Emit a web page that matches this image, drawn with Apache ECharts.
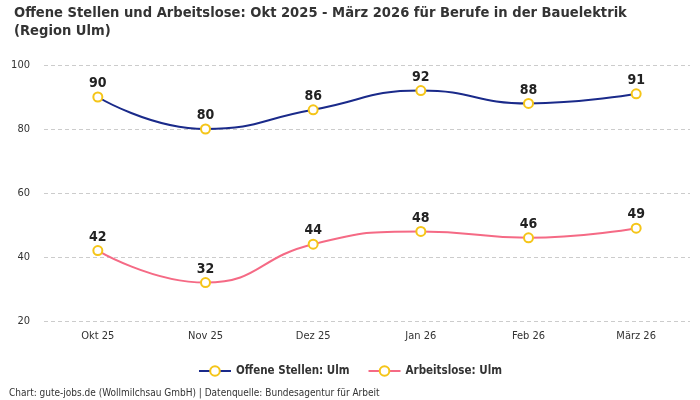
<!DOCTYPE html>
<html lang="de">
<head>
    <meta charset="UTF-8">
    <title>Offene Stellen und Arbeitslose</title>
    <script src="https://cdn.jsdelivr.net/npm/echarts@6/dist/echarts.min.js"></script>
</head>
<style>
    html, body { margin: 0; padding: 0; background: #fff; }
    #chart { width: 700px; height: 400px; }
</style>
<body>
<div id="chart"></div>
<script type="text/javascript">
    // Monate und Werte
    const months = ['Okt 25', 'Nov 25', 'Dez 25', 'Jan 26', 'Feb 26', 'März 26'];
    const offeneStellen = [90, 80, 86, 92, 88, 91];
    const arbeitslose = [42, 32, 44, 48, 46, 49];

    const fontName = '"DejaVu Sans Condensed", "Liberation Sans Narrow", sans-serif';

    function lineSeries(name, data, color) {
        return {
            name: name,
            type: 'line',
            smooth: true,
            data: data,
            symbol: 'circle',
            symbolSize: 9,
            lineStyle: { color: color, width: 2 },
            itemStyle: { color: '#fff', borderColor: '#f5c518', borderWidth: 2 },
            label: {
                show: true,
                position: 'top',
                distance: 1,
                color: '#222',
                fontSize: 14,
                fontWeight: 'bold',
                fontFamily: fontName
            }
        };
    }

    let myChart = echarts.init(document.getElementById('chart'));
    myChart.setOption({
        animation: false,
        color: ['#1a2a8a', '#f56a85'],
        textStyle: { fontFamily: fontName },
        title: {
            text: 'Offene Stellen und Arbeitslose: Okt 2025 - März 2026 für Berufe in der Bauelektrik\n(Region Ulm)',
            left: 9,
            top: -1,
            textStyle: { fontSize: 14.6, fontWeight: 'bold', color: '#333', lineHeight: 18, fontFamily: fontName }
        },
        legend: {
            bottom: 18,
            left: 'center',
            itemWidth: 32,
            itemHeight: 12,
            itemGap: 18,
            textStyle: { fontSize: 11.5, fontWeight: 'bold', color: '#333', fontFamily: fontName },
            data: ['Offene Stellen: Ulm', 'Arbeitslose: Ulm']
        },
        graphic: [{
            type: 'text',
            left: 9,
            bottom: 2,
            style: {
                text: 'Chart: gute-jobs.de (Wollmilchsau GmbH) | Datenquelle: Bundesagentur für Arbeit',
                fontSize: 10,
                fill: '#333',
                fontFamily: fontName
            }
        }],
        grid: { left: 44, right: 10, top: 65, bottom: 79 },
        xAxis: {
            type: 'category',
            data: months,
            axisLine: { show: false },
            axisTick: { show: false },
            axisLabel: { color: '#333', fontSize: 11, margin: 10 }
        },
        yAxis: {
            type: 'value',
            min: 20,
            max: 100,
            interval: 20,
            axisLabel: { color: '#333', fontSize: 11, margin: 14 },
            splitLine: { lineStyle: { color: '#ccc', type: [4, 3] } }
        },
        series: [
            lineSeries('Offene Stellen: Ulm', offeneStellen, '#1a2a8a'),
            lineSeries('Arbeitslose: Ulm', arbeitslose, '#f56a85')
        ]
    });
</script>
</body>
</html>
